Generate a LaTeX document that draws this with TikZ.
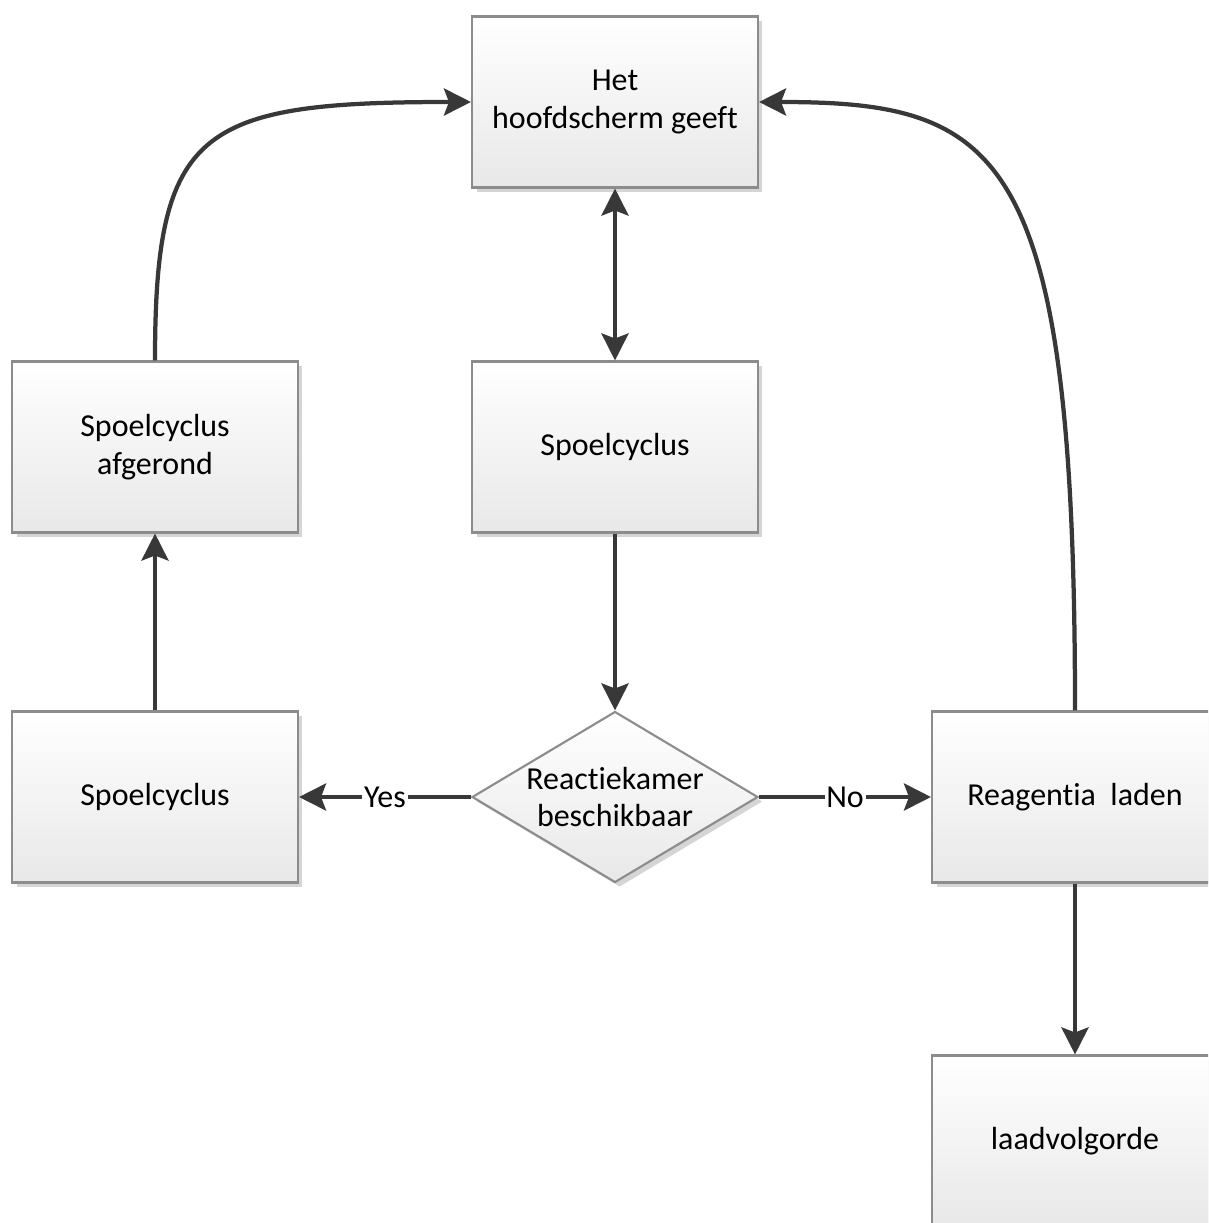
\documentclass[tikz,border=0pt]{standalone}
\usepackage{fontspec}
\setmainfont{Carlito}[Ligatures={NoCommon,NoDiscretionary}]
\usetikzlibrary{arrows.meta,shapes.geometric,shadows}

\tikzset{
  box/.style={draw=black!45, line width=1.2pt, rectangle,
    top color=white, bottom color=black!9,
    minimum width=5.72cm, minimum height=3.42cm, inner sep=0pt,
    align=center, font=\fontsize{18.2}{21.5}\selectfont,
    drop shadow={shadow xshift=0.09cm, shadow yshift=-0.09cm,
      fill=black!30, opacity=0.55}},
  decision/.style={draw=black!45, line width=1.2pt, diamond,
    top color=white, bottom color=black!9,
    minimum width=5.72cm, minimum height=3.42cm, inner sep=0pt,
    drop shadow={shadow xshift=0.09cm, shadow yshift=-0.09cm,
      fill=black!30, opacity=0.55}},
  plain/.style={align=center, font=\fontsize{18.2}{21.5}\selectfont},
  tip/.style={Stealth[length=0.54cm,width=0.54cm,inset=0.1cm]},
  flow/.style={draw=black!78, line width=0.085cm, -{Stealth[length=0.54cm,width=0.54cm,inset=0.1cm]}},
  lbl/.style={fill=white, inner sep=1pt, font=\fontsize{18.2}{21.5}\selectfont}
}

\begin{document}
\begin{tikzpicture}[x=0.02cm, y=-0.02cm]
  \useasboundingbox (0,0) rectangle (1208,1223);
  \clip (0,0) rectangle (1208,1223);

  % process boxes
  \node[box] (main)   at (615,102)  {Het\\hoofdscherm geeft};
  \node[box] (rinse)  at (615,447)  {Spoelcyclus};
  \node[box] (done)   at (155,447)  {Spoelcyclus\\afgerond};
  \node[box] (rinse2) at (155,797)  {Spoelcyclus};
  \node[box] (load)   at (1075,797) {Reagentia\ \ laden};
  \node[box] (order)  at (1075,1141) {laadvolgorde};

  % decision
  \node[decision] (dec) at (615,797) {};
  \node[plain] (dectext) at (dec) {Reactiekamer\\beschikbaar};

  % connectors
  \draw[flow, {Stealth[length=0.54cm,width=0.54cm,inset=0.1cm]}-{Stealth[length=0.54cm,width=0.54cm,inset=0.1cm]}]
    (main.south) -- (rinse.north);
  \draw[flow] (rinse.south) -- (dec.north);
  \draw[flow] (dec.west) -- node[lbl] (yes) {Yes} (rinse2.east);
  \draw[flow] (dec.east) -- node[lbl] (no) {No} (load.west);
  \draw[flow] (rinse2.north) -- (done.south);
  \draw[flow] (done.north) .. controls +(0,-232) and +(-272,0) .. (main.west);
  \draw[flow] (load.north) .. controls +(0,-562) and +(242,0) .. (main.east);
  \draw[flow] (load.south) -- (order.north);
\end{tikzpicture}
\end{document}
